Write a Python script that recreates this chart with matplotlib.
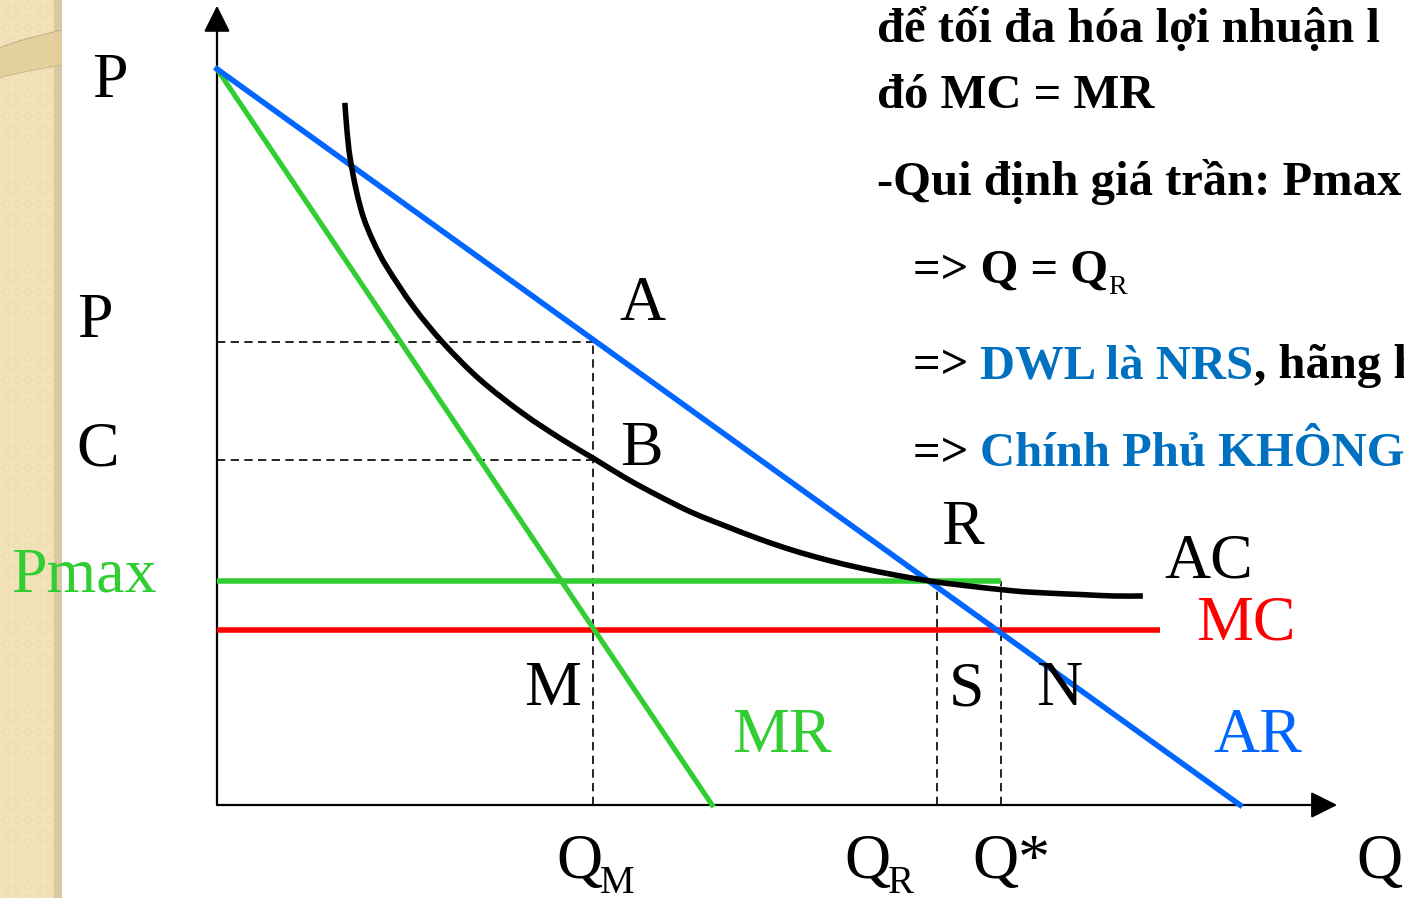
import numpy as np
import matplotlib
matplotlib.use("Agg")
import matplotlib.pyplot as plt
from matplotlib.patches import Polygon, PathPatch
from matplotlib.path import Path

# ---- diagram values (Q, P in diagram units) ----
ar_q = [0.0, 10.0]          # average revenue (demand)
ar_p = [10.0, 0.0]
mr_q = [0.0, 4.84]          # marginal revenue
mr_p = [10.0, 0.0]
mc_level = 2.38             # marginal cost
mc_q_end = 9.22
pmax_level = 3.04           # price ceiling
q_m = 3.68                  # monopoly output
p_a = 6.29                  # monopoly price (point A)
c_b = 4.69                  # average cost at Q_M (point B)
q_r = 7.04                  # output under the ceiling
q_star = 7.66               # efficient output
axis_q_max = 10.95
axis_p_max = 10.86

# average cost curve
ac_q = [1.25, 1.27, 1.30, 1.36, 1.43, 1.53, 1.66, 1.92, 2.21, 2.57, 2.99,
        3.38, 3.68, 4.01, 4.33, 4.65, 4.99, 5.31, 5.63, 5.96, 6.29, 6.61,
        6.94, 7.26, 7.78, 8.11, 8.44, 8.76, 9.05]
ac_p = [9.54, 9.17, 8.80, 8.36, 7.99, 7.65, 7.31, 6.77, 6.28, 5.78, 5.32,
        4.96, 4.71, 4.43, 4.19, 3.97, 3.78, 3.61, 3.46, 3.33, 3.22, 3.13,
        3.05, 2.99, 2.91, 2.88, 2.86, 2.84, 2.84]

# ---- figure geometry ----
W, H = 1404, 898
X0, Y0 = 217, 805            # origin of the diagram in pixels
SQ, SP = 102.3, 73.6         # pixels per unit

GREEN = "#32CD32"
BLUE = "#0066FF"
RED = "#FF0000"
TXT_BLUE = "#0070C0"
SERIF = ["Liberation Serif", "DejaVu Serif"]
LW = 4.0

fig = plt.figure(figsize=(W / 100, H / 100), dpi=100)
fig.patch.set_facecolor("white")

# decorative textured strip on the left
STRIP = 62
bg = fig.add_axes([0, 0, STRIP / W, 1])
yy, xx = np.mgrid[0:H, 0:STRIP]
per = 11.0
dx = (xx % per) - per / 2
dy = (yy % per) - per / 2
r = np.hypot(dx, dy)
ring = np.exp(-((r - 3.2) ** 2) / 1.5)
base = np.array([243, 228, 188], float) / 255
dark = np.array([234, 216, 170], float) / 255
img = base[None, None, :] * (1 - 0.45 * ring[..., None]) + dark[None, None, :] * 0.45 * ring[..., None]
edge = (xx >= 54)[..., None]
img = np.where(edge, np.array([216, 201, 162], float)[None, None, :] / 255, img)
bg.imshow(img, extent=(0, STRIP, H, 0), aspect="auto", interpolation="bilinear")
t = np.linspace(0, 1, 30)
top_x = t * STRIP
top_y = 48 - 18 * t ** 0.8
bot_y = 78 - 13 * t ** 0.8
band = np.column_stack([np.r_[top_x, top_x[::-1]], np.r_[top_y, bot_y[::-1]]])
bg.add_patch(Polygon(band, closed=True, facecolor="#E4D09C", edgecolor="none", alpha=0.95))
bg.plot(top_x, top_y, color="#B8A78A", lw=0.6)
bg.plot(top_x, bot_y, color="#CDBB92", lw=0.8)
bg.set_xlim(0, STRIP)
bg.set_ylim(H, 0)
bg.axis("off")

# main diagram axes mapped so that data units land on the pixel grid
ax = fig.add_axes([0, 0, 1, 1])
ax.patch.set_alpha(0)
ax.set_xlim(-X0 / SQ, (W - X0) / SQ)
ax.set_ylim(-(H - Y0) / SP, Y0 / SP)
ax.axis("off")

# axes with arrows
arrow_kw = dict(arrowstyle="-|>,head_length=0.9,head_width=0.45", lw=1.6,
                color="black", mutation_scale=18, shrinkA=0, shrinkB=0)
ax.annotate("", xy=(0, axis_p_max), xytext=(0, 0), arrowprops=arrow_kw)
ax.annotate("", xy=(axis_q_max, 0), xytext=(0, 0), arrowprops=arrow_kw)

# guide lines
dash = dict(color="black", lw=1.2, linestyle=(0, (5, 3.2)), zorder=2)
ax.plot([0, q_m + 0.05], [p_a, p_a], **dash)
ax.plot([0, q_m + 0.05], [c_b, c_b], **dash)
ax.plot([q_m, q_m], [0, p_a], **dash)
ax.plot([q_r, q_r], [0, pmax_level], **dash)
ax.plot([q_star, q_star], [0, pmax_level], **dash)

# straight curves
ax.plot([0, mc_q_end], [mc_level, mc_level], color=RED, lw=LW, zorder=3,
        solid_capstyle="butt")
ax.plot([0, q_star], [pmax_level, pmax_level], color=GREEN, lw=LW, zorder=3,
        solid_capstyle="butt")
ax.plot(mr_q, mr_p, color=GREEN, lw=LW - 0.3, zorder=4)
ax.plot(ar_q, ar_p, color=BLUE, lw=LW, zorder=4)


def smooth_path(xs, ys):
    """Catmull-Rom spline through the points, expressed as cubic Bezier segments."""
    pts = np.column_stack([xs, ys]).astype(float)
    ext = np.vstack([pts[0], pts, pts[-1]])
    verts = [pts[0]]
    codes = [Path.MOVETO]
    for i in range(1, len(ext) - 2):
        p0, p1, p2, p3 = ext[i - 1], ext[i], ext[i + 1], ext[i + 2]
        verts += [p1 + (p2 - p0) / 6, p2 - (p3 - p1) / 6, p2]
        codes += [Path.CURVE4] * 3
    return Path(verts, codes)


ax.add_patch(PathPatch(smooth_path(ac_q, ac_p), facecolor="none",
                       edgecolor="black", lw=LW, zorder=5, capstyle="butt"))


def px(x, y):
    return x / W, 1 - y / H


def label(x, y, s, color="black", size=46, **kw):
    return fig.text(*px(x, y), s, color=color, fontsize=size, family=SERIF,
                    va="baseline", ha="left", **kw)


label(92, 97, "P")
label(77, 337, "P")
label(76, 465, "C")
label(11, 592, "Pmax", color=GREEN)
label(619, 320, "A")
label(620, 465, "B")
label(941, 544, "R")
label(1164, 577, "AC")
label(1196, 640, "MC", color=RED)
label(524, 705, "M")
label(732, 752, "MR", color=GREEN)
label(949, 705, "S")
label(1036, 705, "N")
label(1213, 752, "AR", color=BLUE)
label(556, 878, "Q")
label(600, 893, "M", size=28)
label(844, 878, "Q")
label(888, 893, "R", size=28)
label(972, 878, "Q*")
label(1356, 878, "Q")

# explanatory text on the right
renderer = fig.canvas.get_renderer()
TS = 35


def run(x, y, pieces):
    for s, color, size, weight, dy in pieces:
        t = fig.text(*px(x, y + dy), s, color=color, fontsize=size,
                     family=SERIF, weight=weight, va="baseline", ha="left")
        x = t.get_window_extent(renderer).x1


run(877, 42, [("để tối đa hóa lợi nhuận l", "black", TS, "bold", 0)])
run(877, 108, [("đó MC = MR", "black", TS, "bold", 0)])
run(877, 195, [("-Qui định giá trần: Pmax", "black", TS, "bold", 0)])
run(913, 283, [("=> Q = Q", "black", TS, "bold", 0),
               ("R", "black", 20, "normal", 11)])
run(913, 378, [("=> ", "black", TS, "bold", 0),
               ("DWL là NRS", TXT_BLUE, TS, "bold", 0),
               (", hãng h", "black", TS, "bold", 0)])
run(913, 466, [("=> ", "black", TS, "bold", 0),
               ("Chính Phủ KHÔNG", TXT_BLUE, TS, "bold", 0)])

fig.savefig("out.png", dpi=100)
